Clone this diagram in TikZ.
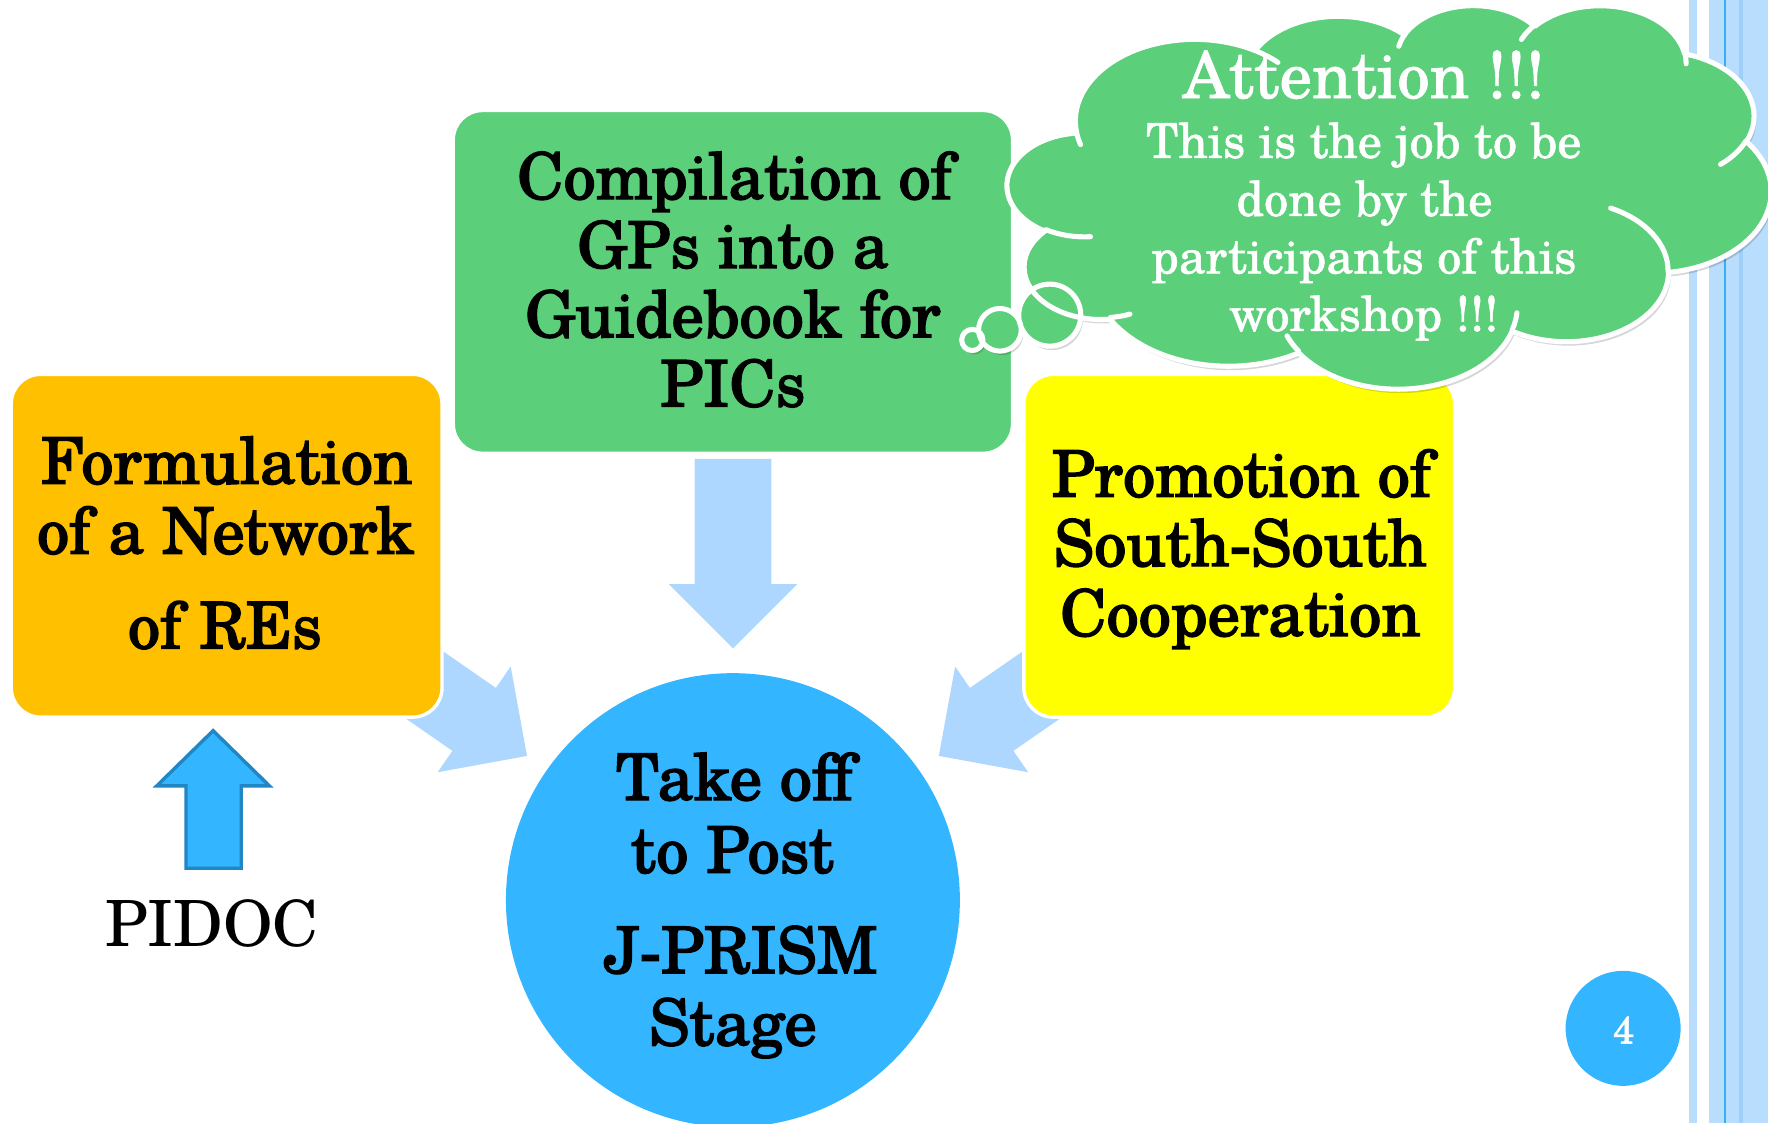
\documentclass[tikz,border=0pt]{standalone}
\usepackage{fontspec}
\setmainfont{TeX Gyre Schola}
\newfontfamily\heavyfont{TeX Gyre Schola}[FakeBold=2.2]
\newfontfamily\mediumfont{TeX Gyre Schola}[FakeBold=1.0]
\definecolor{orangeC}{HTML}{FFC000}
\definecolor{yellowC}{HTML}{FFFF00}
\definecolor{greenC}{HTML}{5CCF7B}
\definecolor{circBlue}{HTML}{33B5FF}
\definecolor{arrowBlue}{HTML}{ADD7FF}
\definecolor{stripeL}{HTML}{B8DDFD}
\definecolor{stripeD}{HTML}{9FCFF8}
\definecolor{stripeLine}{HTML}{35AEF5}
\definecolor{pidocB}{HTML}{2186C4}
\newcommand\cloudshape{(39.00,143.70)
 arc[start angle=172.25, end angle=300.36, x radius=67.53, y radius=91.90]
 arc[start angle=-152.02, end angle=-45.44, x radius=53.33, y radius=72.67]
 arc[start angle=-153.48, end angle=-37.33, x radius=43.65, y radius=59.45]
 arc[start angle=-139.69, end angle=-10.21, x radius=48.57, y radius=65.95]
 arc[start angle=-74.77, end angle=23.21, x radius=53.33, y radius=72.73]
 arc[start angle=-37.53, end angle=81.86, x radius=67.75, y radius=92.20]
 arc[start angle=0.46, end angle=121.98, x radius=57.85, y radius=78.67]
 arc[start angle=16.84, end angle=146.25, x radius=67.52, y radius=92.15]
 arc[start angle=58.98, end angle=150.20, x radius=77.20, y radius=105.43]
 arc[start angle=83.31, end angle=223.10, x radius=43.60, y radius=59.18]
 arc[start angle=120.35, end angle=264.11, x radius=43.45, y radius=59.45]
 -- cycle}
\newcommand\cloudinner{
 (46.93,261.77) arc[start angle=85.55, end angle=120.35, x radius=43.45, y radius=59.45]
 (69.28,348.99) arc[start angle=68.24, end angle=83.31, x radius=43.60, y radius=59.18]
 (164.78,390.90) arc[start angle=146.25, end angle=158.47, x radius=67.52, y radius=92.15]
 (288.27,347.51) arc[start angle=4.74, end angle=16.84, x radius=67.52, y radius=92.15]
 (341.29,229.54) arc[start angle=-64.03, end angle=0.46, x radius=57.85, y radius=78.67]
 (417.98,153.54) arc[start angle=23.21, end angle=49.63, x radius=53.33, y radius=72.73]
 (383.24,54.26) arc[start angle=-10.21, end angle=0.82, x radius=48.57, y radius=65.95]
 (290.78,39.52) arc[start angle=-156.29, end angle=-139.69, x radius=48.57, y radius=65.95]
 (221.41,47.20) arc[start angle=-167.73, end angle=-153.48, x radius=43.65, y radius=59.45]
 (140.00,51.92) arc[start angle=-59.64, end angle=-45.74, x radius=67.53, y radius=91.90]
 (41.27,157.89) arc[start angle=163.19, end angle=172.25, x radius=67.53, y radius=91.90]}
\newcommand\bubbles{(862.3,301.5) circle[radius=9.4] (886.8,292.5) circle[radius=18.9] (931,279.5) circle[radius=27.5]}
\begin{document}
\begin{tikzpicture}[x=1pt,y=-1pt,
  box/.style={draw=white, line width=3pt, rounded corners=26pt, inner sep=0pt},
  txt/.style={font=\heavyfont\fontsize{57}{62}\selectfont, anchor=base, inner sep=0pt},
  ctxt/.style={font=\mediumfont\fontsize{42.8}{51}\selectfont, anchor=base, inner sep=0pt, text=white},
  blockarrow/.style={fill=arrowBlue},
  cloudscope/.style={shift={(893.6,3.9)}, x=1.5671pt, y=-0.78704pt},
  cloudline/.style={draw=white, line width=4.5pt, line join=round}
]
\useasboundingbox (0,0) rectangle (1568,996);
\clip (0,0) rectangle (1568,996);
% side stripes
\fill[stripeL] (1497.9,0) rectangle (1505,996);
\fill[stripeL] (1515.7,0) rectangle (1568,996);
\fill[stripeD] (1542.1,0) rectangle (1545.6,996);
\fill[stripeLine] (1529.2,0) rectangle (1530.6,996);
% block arrows
\fill[blockarrow] (616,407) -- (684,407) -- (684,518) -- (707,518) -- (650,575) -- (593,518) -- (616,518) -- cycle;
\fill[blockarrow] (348.6,546.9) -- (439.8,610.1) -- (452.9,591.1) -- (467.4,670.4) -- (388.1,684.9) -- (401.2,665.9) -- (310.0,602.7) -- cycle;
\fill[blockarrow] (951.4,546.9) -- (860.2,610.1) -- (847.1,591.1) -- (832.6,670.4) -- (911.9,684.9) -- (898.8,665.9) -- (990.0,602.7) -- cycle;
% boxes
\node[box, fill=orangeC, minimum width=382pt, minimum height=304pt] (net) at (201,484) {};
\node[box, fill=greenC, minimum width=496pt, minimum height=304pt] (gp) at (650,250) {};
\node[box, fill=yellowC, minimum width=382pt, minimum height=304pt] (ssc) at (1099,484) {};
\node[circle, fill=circBlue, minimum size=402.6pt, inner sep=0pt] (post) at (650,798.3) {};
% box texts
\node[txt] (net1) at (201,429) {Formulation};
\node[txt] (net2) at (200,491) {of a Network};
\node[txt] (net3) at (199.5,575) {of REs};
\node[txt] (gp1) at (651.5,176.5) {Compilation of};
\node[txt] (gp2) at (650,237.5) {GPs into a};
\node[txt] (gp3) at (650,299) {Guidebook for};
\node[txt] (gp4) at (650,360.5) {PICs};
\node[txt] (ssc1) at (1101,440.5) {Promotion of};
\node[txt] (ssc2) at (1100,502) {South-South};
\node[txt] (ssc3) at (1100,564) {Cooperation};
\node[txt] (post1) at (651,709.5) {Take off};
\node[txt] (post2) at (649.5,774) {to Post};
\node[txt] (post3) at (657,863) {J-PRISM};
\node[txt] (post4) at (650,927) {Stage};
% PIDOC arrow
\filldraw[fill=circBlue, draw=pidocB, line width=3pt] (189,648) -- (239,697) -- (214,697) -- (214,770) -- (165,770) -- (165,697) -- (139,697) -- cycle;
\node[font=\fontsize{56.5}{60}\selectfont, anchor=base, inner sep=0pt] (pidoc) at (188,839.5) {PIDOC};
% page number
\node[circle, fill=circBlue, minimum size=102pt, inner sep=0pt] (pg) at (1439.5,912) {};
\node[anchor=base, inner sep=0pt, text=white, font=\mediumfont\fontsize{34}{34}\selectfont] (pgnum) at (1440,925.5) {4};
% thought cloud: shadow
\begin{scope}[shift={(2,3.5)}]
  \begin{scope}[cloudscope]
    \fill[black, opacity=0.16] \cloudshape;
  \end{scope}
  \fill[black, opacity=0.16] \bubbles;
\end{scope}
\begin{scope}[cloudscope]
  \fill[greenC] \cloudshape;
\end{scope}
\fill[greenC] \bubbles;
\begin{scope}[cloudscope]
  \path[cloudline] \cloudshape;
  \path[cloudline, line cap=round] \cloudinner;
\end{scope}
\path[cloudline] \bubbles;
% cloud text
\node[ctxt, font=\mediumfont\fontsize{57.5}{60}\selectfont] (att) at (1209.5,87) {Attention !!!};
\node[ctxt] (c1) at (1209.5,140) {This is the job to be};
\node[ctxt] (c2) at (1210,191.5) {done by the};
\node[ctxt] (c3) at (1209.5,242.5) {participants of this};
\node[ctxt] (c4) at (1209.5,293.5) {workshop !!!};
\end{tikzpicture}
\end{document}
